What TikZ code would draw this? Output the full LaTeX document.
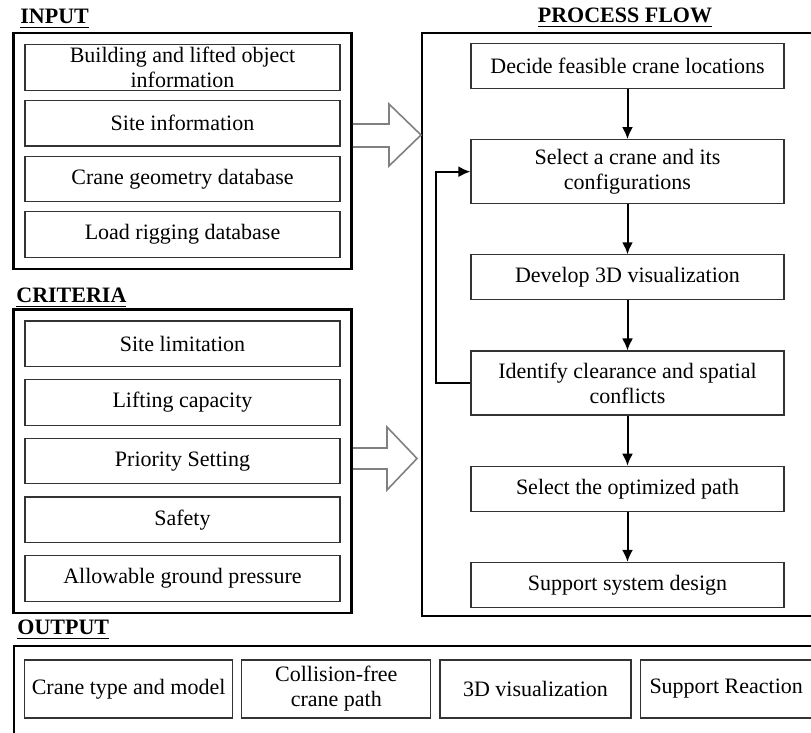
\documentclass[tikz,border=0pt]{standalone}
\usepackage{fontspec}
\setmainfont{Liberation Serif}
\usetikzlibrary{arrows.meta, positioning, fit}
\tikzset{
  >={Latex[length=6pt,width=5.5pt]},
  base/.style = {draw=black!80, line width=0.6pt, align=center,
                 font=\fontsize{11}{12.5}\selectfont, inner xsep=2pt, inner ysep=0.5pt},
}

\begin{document}
\begin{tikzpicture}[x=0.5pt, y=-0.5pt,
            item/.style   = {base, minimum width=157.5pt, minimum height=22.75pt},
            stage/.style  = {base, minimum width=156.5pt, minimum height=22.5pt},
            result/.style = {base, minimum height=29pt},
            panel/.style  = {draw, line width=1.2pt, inner sep=5.5pt},
            head/.style   = {font=\fontsize{11}{12.5}\selectfont\bfseries, inner sep=0pt, anchor=base west},
            hollow/.style = {draw=black!50, line width=0.8pt, line join=miter},
            flow/.style   = {->, line width=1pt},
        ]
        \useasboundingbox (0,0) rectangle (811,733);
        \clip (0,0) rectangle (811,733);

        % input
        \node[head] (inhead) at (20,24) {\underline{INPUT}};
        \node[item] (bldg) at (182.5,67.5) {Building and lifted object\\information};
        \node[item, below=4.5pt of bldg] (site) {Site information};
        \node[item, below=4.5pt of site] (geom) {Crane geometry database};
        \node[item, below=4.5pt of geom] (rig)  {Load rigging database};
        \node[panel, fit=(bldg)(rig)] (inbox) {};

        % criteria
        \node[head] (crithead) at (16,303) {\underline{CRITERIA}};
        \node[item] (limit) at (182.5,343.75) {Site limitation};
        \node[item, below=6pt of limit] (cap)    {Lifting capacity};
        \node[item, below=6pt of cap]   (prio)   {Priority Setting};
        \node[item, below=6pt of prio]  (safe)   {Safety};
        \node[item, below=6pt of safe]  (ground) {Allowable ground pressure};
        \node[panel, fit=(limit)(ground)] (critbox) {};

        % process flow
        \node[head, anchor=base] (prochead) at (625,23) {\underline{PROCESS FLOW}};
        \node[panel, inner sep=0pt, minimum width=210pt, minimum height=291.5pt, anchor=north west] (procbox) at (421,32) {};
        \node[stage] (decide) at (627.5,66) {Decide feasible crane locations};
        \node[stage, minimum height=32pt, below=25pt of decide] (pick)    {Select a crane and its\\configurations};
        \node[stage, below=25pt of pick]                        (visual)  {Develop 3D visualization};
        \node[stage, minimum height=32pt, below=25pt of visual] (spot)    {Identify clearance and spatial\\conflicts};
        \node[stage, below=25pt of spot]                        (optpath) {Select the optimized path};
        \node[stage, below=25pt of optpath]                     (support) {Support system design};

        \draw[flow] (decide)  -- (pick);
        \draw[flow] (pick)    -- (visual);
        \draw[flow] (visual)  -- (spot);
        \draw[flow] (spot)    -- (optpath);
        \draw[flow] (optpath) -- (support);
        \draw[flow] (spot.west) -- ++(-34,0) |- (pick.west);

        % block arrows into the process
        \draw[hollow] (inbox.east |- 0,124) -- (389,124) -- (389,104) -- (procbox.west |- 0,135)
                      -- (389,166) -- (389,147) -- (inbox.east |- 0,147);
        \draw[hollow] (critbox.east |- 0,448) -- (387,448) -- (387,427) -- (417,458.5)
                      -- (387,490) -- (387,469) -- (critbox.east |- 0,469);

        % output
        \node[head] (outhead) at (17,635) {\underline{OUTPUT}};
        \node[panel, inner sep=0pt, minimum width=420pt, minimum height=60pt, anchor=north west] (outbox) at (13,645) {};
        \node[result, minimum width=104pt, anchor=west] (ctype) at (24,689) {Crane type and model};
        \node[result, minimum width=94.5pt, right=4pt of ctype] (cpath)  {Collision-free\\crane path};
        \node[result, minimum width=95.5pt, right=4pt of cpath] (cview)  {3D visualization};
        \node[result, minimum width=86pt, right=4pt of cview]   (react)  {Support Reaction};

        \end{tikzpicture}
\end{document}
